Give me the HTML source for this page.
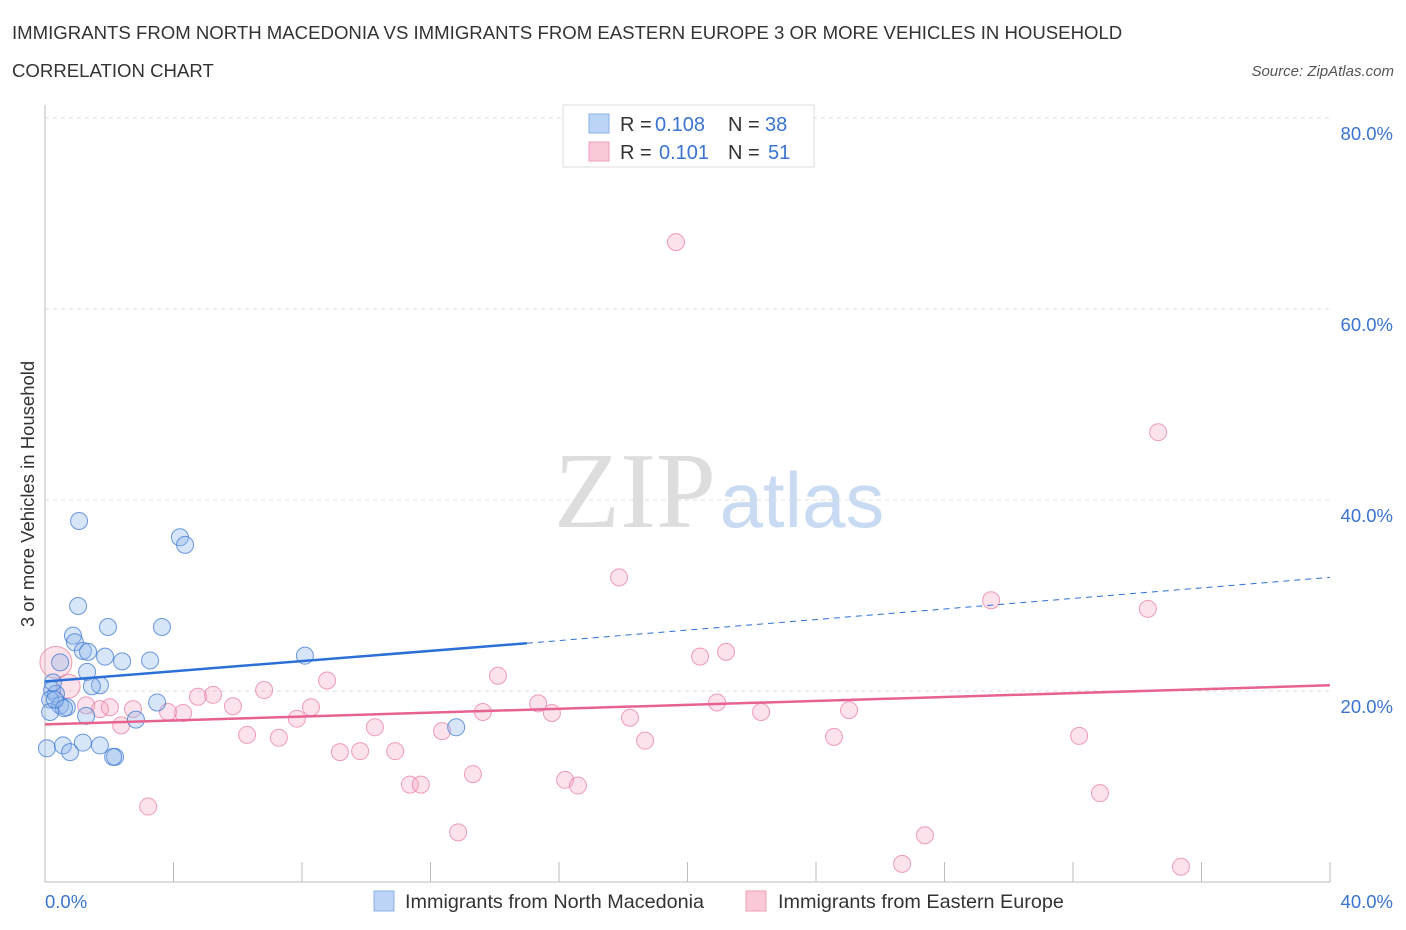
<!DOCTYPE html>
<html><head><meta charset="utf-8"><style>
body{margin:0;background:#fff;font-family:"Liberation Sans",sans-serif;}
</style></head><body>
<svg id="c" width="1406" height="930" xmlns="http://www.w3.org/2000/svg" style="display:block">
<text x="12" y="39" font-size="18.6" fill="#333">IMMIGRANTS FROM NORTH MACEDONIA VS IMMIGRANTS FROM EASTERN EUROPE 3 OR MORE VEHICLES IN HOUSEHOLD</text>
<text x="12" y="77" font-size="18.6" fill="#333">CORRELATION CHART</text>
<text x="1394" y="76" font-size="15" fill="#555" font-style="italic" text-anchor="end">Source: ZipAtlas.com</text>
<text x="635" y="527" font-size="108" fill="#ddd" font-family="Liberation Serif,serif" text-anchor="middle">ZIP</text>
<text x="802" y="527" font-size="78" fill="#c9dbf2" text-anchor="middle">atlas</text>
<text transform="translate(34,494) rotate(-90)" font-size="18.5" fill="#333" text-anchor="middle">3 or more Vehicles in Household</text>
<g id="grid"></g><g id="pts"></g><g id="lines"></g>
<g>
<rect x="563" y="105" width="251" height="62" fill="#fff" stroke="#ddd"/>
<rect x="589" y="114" width="20" height="19" fill="#bcd4f5" stroke="#8ab0e6"/>
<rect x="589" y="142" width="20" height="19" fill="#fac8d6" stroke="#ef9fb7"/>
<text x="620" y="131" font-size="20" fill="#333">R =</text>
<text x="655" y="131" font-size="20" fill="#3a74d0">0.108</text>
<text x="728" y="131" font-size="20" fill="#333">N =</text>
<text x="765" y="131" font-size="20" fill="#3a74d0">38</text>
<text x="620" y="159" font-size="20" fill="#333">R =</text>
<text x="659" y="159" font-size="20" fill="#3a74d0">0.101</text>
<text x="728" y="159" font-size="20" fill="#333">N =</text>
<text x="768" y="159" font-size="20" fill="#3a74d0">51</text>
</g>
<g>
<rect x="374" y="891" width="20" height="20" fill="#bcd4f5" stroke="#8ab0e6"/>
<text x="405" y="908" font-size="19.8" fill="#333">Immigrants from North Macedonia</text>
<rect x="746" y="891" width="20" height="20" fill="#fac8d6" stroke="#ef9fb7"/>
<text x="778" y="908" font-size="19.8" fill="#333">Immigrants from Eastern Europe</text>
</g>
</svg>
<script>
const yTicks=[20,40,60,80];
const xTickLabels=["0.0%","40.0%"];
const blueX=[1.06,4.2,4.36,1.03,1.96,3.64,0.87,0.93,1.18,1.34,1.87,2.4,3.27,0.47,1.31,1.71,1.46,0.22,0.34,3.49,0.16,0.47,0.68,0.59,0.16,1.28,2.83,12.8,8.09,0.06,0.56,0.78,1.18,1.71,2.18,2.12,0.25,0.31];
const blueY=[37.8,36.1,35.3,28.9,26.7,26.7,25.8,25.1,24.2,24.1,23.6,23.1,23.2,23.0,22.0,20.6,20.5,20.1,19.7,18.8,19.1,18.5,18.3,18.2,17.8,17.4,17.0,16.2,23.7,14.0,14.3,13.6,14.6,14.3,13.1,13.1,20.9,19.1];
const pinkX=[19.64,34.65,17.87,29.45,34.33,21.2,20.39,14.1,8.78,6.82,5.23,4.76,5.85,8.28,15.35,20.92,25.03,13.63,15.78,22.29,3.83,4.3,2.74,1.71,1.28,7.84,18.21,2.37,10.27,12.36,6.29,7.28,18.68,24.56,32.19,9.18,9.81,10.9,13.32,16.19,11.36,11.7,16.59,32.84,3.21,12.86,27.39,26.68,35.36,0.34,0.72,2.02];
const pinkY=[67.0,47.1,31.9,29.5,28.6,24.1,23.6,21.6,21.1,20.1,19.6,19.4,18.4,18.3,18.7,18.8,18.0,17.8,17.7,17.8,17.8,17.7,18.1,18.1,18.5,17.1,17.2,16.4,16.2,15.8,15.4,15.1,14.8,15.2,15.3,13.6,13.7,13.7,11.3,10.7,10.2,10.2,10.1,9.3,7.9,5.2,4.9,1.9,1.6,23.0,20.5,18.3];
const blueTrend=[[0,21.0],[15,25.0],[40,31.9]];
const pinkTrend=[[0,16.5],[40,20.6]];
const NS="http://www.w3.org/2000/svg";
const X=v=>45+v*32.125, Y=v=>882-v*9.55;
function mk(t,a,p){const e=document.createElementNS(NS,t);for(const k in a)e.setAttribute(k,a[k]);p.appendChild(e);return e;}
const g=document.getElementById('grid');
let ax=mk('line',{x1:45,y1:105,x2:45,y2:882,stroke:'#bbb'},g);


let bx=mk('line',{x1:45,y1:882,x2:1330,y2:882,stroke:'#bbb'},g);


yTicks.forEach(v=>{
 let l=mk('line',{x1:45,y1:Y(v),x2:1330,y2:Y(v),stroke:'#ddd','stroke-dasharray':'4,4'},g);
 
 
 let t=mk('text',{x:1393,y:Y(v)+22,'font-size':18.5,fill:'#3a74d0','text-anchor':'end'},g);t.textContent=v.toFixed(1)+'%';
 
 
});
for(let i=0;i<=10;i++){let l=mk('line',{x1:X(i*4),y1:862,x2:X(i*4),y2:882,stroke:'#bbb'},g);
 
 }
let t0=mk('text',{x:45,y:908,'font-size':18.5,fill:'#3a74d0'},g);t0.textContent=xTickLabels[0];


let t1=mk('text',{x:1393,y:908,'font-size':18.5,fill:'#3a74d0','text-anchor':'end'},g);t1.textContent=xTickLabels[1];


const p=document.getElementById('pts');
pinkX.forEach((x,i)=>{let r=(i>=49&&i<=50)?(i==49?16:12):8.5;let c=mk('circle',{cx:X(x),cy:Y(pinkY[i]),r:r,fill:'rgba(245,160,185,0.3)',stroke:'rgba(232,120,155,0.7)','stroke-width':1},p);
 
 });
blueX.forEach((x,i)=>{let c=mk('circle',{cx:X(x),cy:Y(blueY[i]),r:8.5,fill:'rgba(140,180,235,0.35)',stroke:'rgba(60,120,210,0.75)','stroke-width':1},p);
 
 });
const L=document.getElementById('lines');
let b1=mk('line',{x1:X(blueTrend[0][0]),y1:Y(blueTrend[0][1]),x2:X(blueTrend[1][0]),y2:Y(blueTrend[1][1]),stroke:'#2c6fd6','stroke-width':2.5},L);


let b2=mk('line',{x1:X(blueTrend[1][0]),y1:Y(blueTrend[1][1]),x2:X(blueTrend[2][0]),y2:Y(blueTrend[2][1]),stroke:'#2c6fd6','stroke-width':1,'stroke-dasharray':'6,5'},L);


let pl=mk('line',{x1:X(pinkTrend[0][0]),y1:Y(pinkTrend[0][1]),x2:X(pinkTrend[1][0]),y2:Y(pinkTrend[1][1]),stroke:'#e8628e','stroke-width':2.5},L);


</script>
</body></html>
